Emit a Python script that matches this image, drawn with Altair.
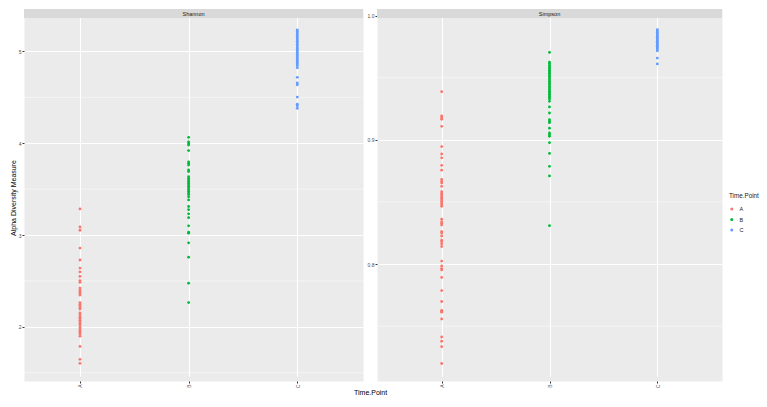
import altair as alt
import pandas as pd

time_points = ["A", "B", "C"]
colors = ["#F8766D", "#00BA38", "#619CFF"]

shannon_A = [3.284, 3.087, 3.052, 2.858, 2.728, 2.640, 2.598, 2.549, 2.503, 2.485, 2.422, 2.397,
             2.380, 2.362, 2.345, 2.264, 2.246, 2.229, 2.211, 2.193, 2.151, 2.127, 2.105, 2.088,
             2.070, 2.053, 2.035, 2.018, 1.993, 1.975, 1.958, 1.940, 1.923, 1.898, 1.786, 1.645, 1.602]
shannon_B = [4.064, 4.015, 3.997, 3.980, 3.920, 3.796, 3.780, 3.762, 3.709, 3.691, 3.635, 3.617,
             3.600, 3.582, 3.564, 3.547, 3.530, 3.512, 3.495, 3.477, 3.459, 3.442, 3.417, 3.382,
             3.311, 3.276, 3.231, 3.189, 3.100, 3.031, 3.020, 2.915, 2.759, 2.475, 2.264]
shannon_C = [5.235, 5.217, 5.200, 5.182, 5.165, 5.147, 5.129, 5.112, 5.094, 5.077, 5.059, 5.041,
             5.024, 5.006, 4.989, 4.971, 4.954, 4.936, 4.918, 4.901, 4.883, 4.866, 4.848, 4.824,
             4.718, 4.658, 4.637, 4.503, 4.426, 4.408, 4.380]

simpson_A = [0.9388, 0.9193, 0.9180, 0.9166, 0.9109, 0.8946, 0.8886, 0.8855, 0.8795, 0.8756,
             0.8681, 0.8665, 0.8652, 0.8626, 0.8582, 0.8569, 0.8556, 0.8543, 0.8530, 0.8517,
             0.8504, 0.8491, 0.8478, 0.8465, 0.8361, 0.8340, 0.8328, 0.8314, 0.8262, 0.8250,
             0.8226, 0.8192, 0.8180, 0.8161, 0.8141, 0.8024, 0.7985, 0.7964, 0.7953, 0.7893,
             0.7787, 0.7699, 0.7628, 0.7621, 0.7613, 0.7558, 0.7413, 0.7379, 0.7335, 0.7200]
simpson_B = [0.9704, 0.9626, 0.9614, 0.9600, 0.9587, 0.9575, 0.9561, 0.9548, 0.9536, 0.9522,
             0.9509, 0.9497, 0.9483, 0.9470, 0.9458, 0.9445, 0.9431, 0.9419, 0.9406, 0.9392,
             0.9380, 0.9367, 0.9353, 0.9341, 0.9328, 0.9310, 0.9265, 0.9216, 0.9162, 0.9148,
             0.9138, 0.9094, 0.9055, 0.9042, 0.9029, 0.8977, 0.8891, 0.8787, 0.8710, 0.8309]
simpson_C = [0.9886, 0.9876, 0.9865, 0.9855, 0.9845, 0.9834, 0.9824, 0.9813, 0.9803, 0.9793,
             0.9782, 0.9772, 0.9762, 0.9751, 0.9741, 0.9731, 0.9717, 0.9658, 0.9611]

shannon_major = [2.0, 3.0, 4.0, 5.0]
shannon_minor = [1.5, 2.5, 3.5, 4.5]
simpson_major = [0.8, 0.9, 1.0]
simpson_minor = [0.75, 0.85, 0.95]


def make_df(series):
    rows = []
    for tp, vals in zip(time_points, series):
        for v in vals:
            rows.append({"tp": tp, "value": v})
    return pd.DataFrame(rows)


df_shannon = make_df([shannon_A, shannon_B, shannon_C])
df_simpson = make_df([simpson_A, simpson_B, simpson_C])

PANEL_H = 372
STRIP_H = 9

legend = alt.Legend(
    title="Time.Point", orient="none", legendX=705, legendY=184,
    titleFontSize=6.3, titleFontWeight="normal", titleColor="#1A1A1A",
    labelFontSize=5.5, labelColor="#1A1A1A", symbolSize=9, symbolType="circle",
    symbolStrokeWidth=0, rowPadding=3.5, titlePadding=7, labelOffset=5,
)


def panel(df, name, width, xpad, xalign, domain, major, minor, fmt, ytitle):
    yscale = alt.Scale(domain=domain, range=[PANEL_H, 5], nice=False, zero=False)
    xscale = alt.Scale(domain=time_points, padding=xpad, align=xalign)
    yaxis_kw = dict(
        values=major, format=fmt,
        labelFontSize=5, labelColor="#4D4D4D", labelPadding=1,
        tickColor="#333333", tickSize=2,
        domain=False, grid=True, gridColor="#FFFFFF", gridWidth=1.1,
    )
    if ytitle:
        yaxis_kw.update(title=ytitle, titleFontSize=7, titleFontWeight="normal",
                        titleColor="#000000", titlePadding=2)
    else:
        yaxis_kw.update(title=None)
    yaxis = alt.Axis(**yaxis_kw)

    minor_df = pd.DataFrame({"value": minor})
    minor_rules = alt.Chart(minor_df).mark_rule(color="#FFFFFF", strokeWidth=0.5).encode(
        y=alt.Y("value:Q", scale=yscale, axis=yaxis),
        x=alt.value(0), x2=alt.value(width),
    )

    points = alt.Chart(df).mark_circle(size=8, opacity=1).encode(
        x=alt.X("tp:N", scale=xscale,
                axis=alt.Axis(title=None, labelAngle=270, labelFontSize=5, labelColor="#4D4D4D",
                              labelPadding=1, tickColor="#333333", tickSize=2, domain=False,
                              grid=True, gridColor="#FFFFFF", gridWidth=1.1)),
        y=alt.Y("value:Q", scale=yscale, axis=yaxis),
        color=alt.Color("tp:N", scale=alt.Scale(domain=time_points, range=colors),
                        legend=legend),
    )
    strip_df = pd.DataFrame({"label": [name]})
    rect = alt.Chart(strip_df).mark_rect(color="#D9D9D9").encode(
        x=alt.value(0), x2=alt.value(width), y=alt.value(0), y2=alt.value(STRIP_H))
    text = alt.Chart(strip_df).mark_text(fontSize=5.5, color="#1A1A1A").encode(
        x=alt.value(width / 2), y=alt.value(STRIP_H / 2 + 0.5), text="label:N")
    return alt.layer(minor_rules, points, rect, text).properties(width=width, height=PANEL_H)


left = panel(df_shannon, "Shannon", 339, 0.56, 0.46, [1.4091, 5.4084], shannon_major,
             shannon_minor, "d", "Alpha Diversity Measure")
right = panel(df_simpson, "Simpson", 345, 0.6, 0.5, [0.7059, 1.0013], simpson_major,
              simpson_minor, ".1f", None)

chart = alt.hconcat(left, right, spacing=2).resolve_scale(
    color="shared", x="independent", y="independent"
).properties(
    padding=0,
    title=alt.TitleParams("Time.Point", orient="bottom", anchor="start", frame="group",
                          dx=330, fontSize=7, fontWeight="normal", color="#000000", offset=1),
).configure(
    font="Liberation Sans",
).configure_view(
    fill="#EBEBEB", stroke="transparent",
)

chart.save("out.html", embed_options={"renderer": "svg", "actions": False})
